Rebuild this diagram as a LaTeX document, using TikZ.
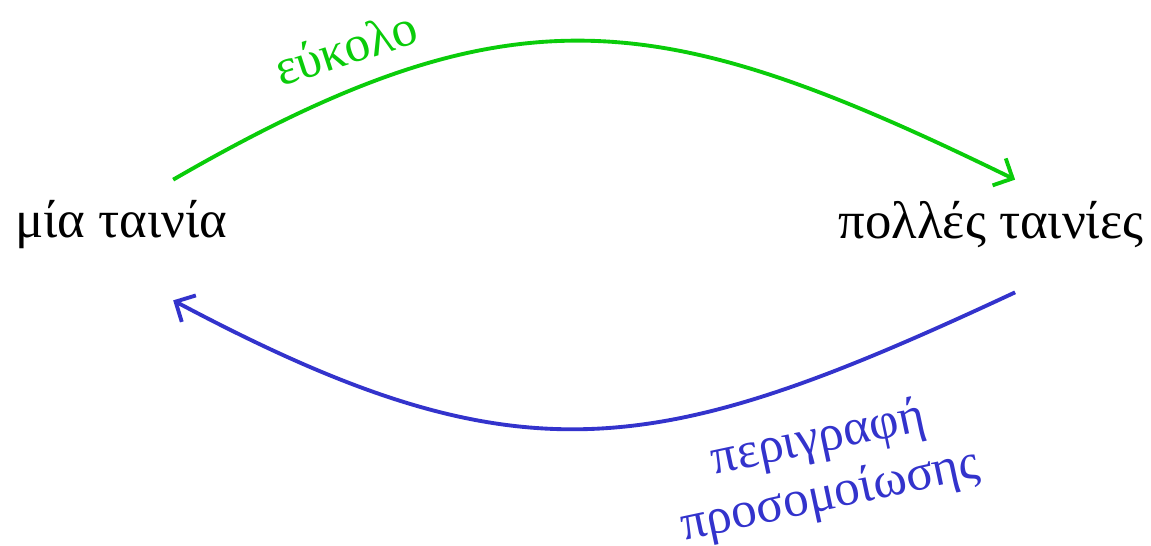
\documentclass[tikz,border=0pt]{standalone}
\usepackage{fontspec}
\setmainfont{Liberation Serif}
\usepackage{xcolor}
\usetikzlibrary{arrows.meta,positioning}
\definecolor{easygreen}{RGB}{10,204,10}
\definecolor{simblue}{RGB}{51,51,204}

\begin{document}
\begin{tikzpicture}[
  font=\fontsize{30}{36}\selectfont,
  movie/.style={rectangle, inner sep=0pt, minimum height=18mm, align=center},
  labeltext/.style={font=\fontsize{29}{33}\selectfont, align=center},
  arrow/.style={-{Straight Barb[length=3mm,width=6mm]}, line width=2.2pt}
]
  \useasboundingbox (0,0) rectangle (23.02,-10.9);
  % Κόμβοι.
  \node[movie] (one) at (2.42,-4.5) {μία ταινία};
  \node[movie] (many) at (19.82,-4.5) {πολλές ταινίες};

  % Βέλη.
  \draw[arrow, draw=easygreen] (one.41) to[out=30, in=154, looseness=1.2]
    node[labeltext, text=easygreen, pos=.2, xshift=-2.4mm, yshift=8mm, rotate=18] {εύκολο} (many.62);
  \draw[arrow, draw=simblue] ([yshift=-4.4mm]many.-62) to[out=205, in=-28, looseness=1.2]
    node[labeltext, text=simblue, pos=.25, xshift=8.6mm, yshift=-15.6mm, rotate=12]
    {περιγραφή\\προσομοίωσης} ([yshift=-6mm]one.-41);
\end{tikzpicture}
\end{document}
